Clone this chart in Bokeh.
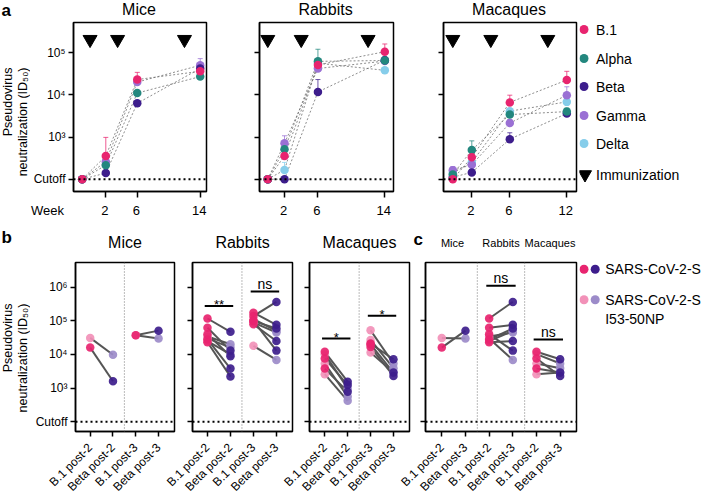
import math
from bokeh.plotting import figure
from bokeh.models import Range1d, FixedTicker, Span
from bokeh.layouts import row, column
from bokeh.core.properties import value
from bokeh.embed import file_html
from bokeh.resources import INLINE

FONT = "Liberation Sans"

# ---------------- Panel a: titers over time ----------------
VARIANTS = ["B.1", "Alpha", "Beta", "Gamma", "Delta"]
VARIANT_COLORS = {"B.1": "#e8246f", "Alpha": "#23877e", "Beta": "#3d1d8c",
                  "Gamma": "#9a70d4", "Delta": "#86cdea"}
DRAW_ORDER = ["Delta", "Gamma", "Beta", "Alpha", "B.1"]

MICE_WEEKS = [-1, 2, 6, 14]
MICE_MEAN = {
    "B.1": [100, 355, 23000, 36000],
    "Alpha": [100, 215, 11000, 27000],
    "Beta": [100, 140, 6300, 42000],
    "Gamma": [100, 260, 20000, 50000],
}
MICE_UPPER = {
    "B.1": [100, 980, 34000, 45000],
    "Alpha": [100, 250, 12500, 31000],
    "Beta": [100, 160, 7200, 50000],
    "Gamma": [100, 320, 24000, 72000],
}
MICE_IMMUNIZATION = [0, 3.5, 12]

RABBIT_WEEKS = [0, 2, 6, 14]
RABBIT_MEAN = {
    "B.1": [100, 355, 51000, 105000],
    "Alpha": [100, 510, 62000, 65000],
    "Beta": [100, 100, 11700, 66000],
    "Gamma": [100, 710, 42000, 63000],
    "Delta": [100, 166, 56000, 38000],
}
RABBIT_UPPER = {
    "B.1": [100, 420, 62000, 160000],
    "Alpha": [100, 700, 120000, 80000],
    "Beta": [100, 100, 23000, 76000],
    "Gamma": [100, 1070, 50000, 72000],
    "Delta": [100, 250, 65000, 42000],
}
RABBIT_IMMUNIZATION = [0, 4, 12]

MACAQUE_WEEKS = [0, 2, 6, 12]
MACAQUE_MEAN = {
    "B.1": [100, 330, 6600, 22400],
    "Alpha": [130, 490, 3400, 4000],
    "Beta": [112, 145, 890, 3600],
    "Gamma": [162, 220, 2140, 9800],
    "Delta": [140, 250, 4100, 6800],
}
MACAQUE_UPPER = {
    "B.1": [100, 400, 9800, 36000],
    "Alpha": [160, 810, 4300, 4800],
    "Beta": [125, 170, 1260, 4100],
    "Gamma": [200, 270, 2600, 15500],
    "Delta": [165, 300, 4700, 7900],
}
MACAQUE_IMMUNIZATION = [0, 4, 10]

A_YTICKS = [100, 1000, 10000, 100000]
A_YTICK_LABELS = ["Cutoff", "10³", "10⁴", "10⁵"]

# ---------------- Panels b, c: B.1 vs Beta ----------------
B_CATEGORIES = ["B.1 post-2", "Beta post-2", "B.1 post-3", "Beta post-3"]
C_CATEGORIES = ["B.1 post-2", "Beta post-3"] * 3
B_YTICKS = [100, 1000, 10000, 100000, 1000000]
B_YTICK_LABELS = ["Cutoff", "10³", "10⁴", "10⁵", "10⁶"]

MICE_GROUP = ["S", "NP"]
MICE_B1_POST2 = [16000, 31000]
MICE_BETA_POST2 = [1600, 9800]
MICE_B1_POST3 = [37000, 37000]
MICE_BETA_POST3 = [51000, 30000]

RABBIT_GROUP = ["S", "S", "S", "S", "NP", "NP", "NP", "S"]
RABBIT_B1_POST2 = [117000, 62000, 28000, 23000, 34000, 30000, 25000, 40000]
RABBIT_BETA_POST2 = [47000, 13000, 3800, 2200, 20000, 16000, 10000, 8900]
RABBIT_B1_POST3 = [138000, 174000, 98000, 79000, 89000, 18000, 112000, 100000]
RABBIT_BETA_POST3 = [363000, 76000, 59000, 25000, 45000, 6900, 50000, 13000]

MACAQUE_GROUP = ["S", "S", "S", "NP", "NP", "NP"]
MACAQUE_B1_POST2 = [12000, 7600, 3800, 10200, 5400, 2600]
MACAQUE_BETA_POST2 = [1550, 1230, 780, 980, 560, 420]
MACAQUE_B1_POST3 = [21000, 16600, 20000, 52000, 27000, 11500]
MACAQUE_BETA_POST3 = [7200, 2300, 2900, 5400, 3900, 2900]

B1_COLORS = {"S": "#e8246f", "NP": "#f291b8"}
BETA_COLORS = {"S": "#3d1d8c", "NP": "#9c8bc9"}

RABBIT_SIG = [("**", 0, 1, 275000), ("ns", 2, 3, 740000)]
MACAQUE_SIG = [("*", 0, 1, 30000), ("*", 2, 3, 141000)]
C_SIG = [("ns", 2, 3, 1100000), ("ns", 4, 5, 28000)]

TRI_Y = 10 ** 5.31
A_LOGRANGE = (1.709, 5.713)
B_LOGRANGE = (1.712, 6.731)
B_PX_PER_DECADE = 169 / (B_LOGRANGE[1] - B_LOGRANGE[0])
COMMON = dict(output_backend="svg", toolbar_location=None, title_location=None,
              background_fill_color=None, border_fill_color=None)


class Frame:
    """A figure filling page box (x0, y0, w, h) with its plot frame at (left, top, fw, fh)."""

    def __init__(self, box, frame, xr, logr):
        self.x0, self.y0, self.w, self.h = box
        self.left, self.top, self.fw, self.fh = frame
        self.xr = xr
        self.logr = logr

    def px(self, x):
        a, b = self.xr
        return self.left + (x - a) / (b - a) * self.fw


def hide_labels(axis):
    axis.major_label_text_font_size = "1px"
    axis.major_label_text_alpha = 0
    axis.major_label_standoff = 0


def frame_fig(fr):
    p = figure(frame_width=fr.fw, frame_height=fr.fh,
               x_range=Range1d(*fr.xr),
               y_range=Range1d(10 ** fr.logr[0], 10 ** fr.logr[1]),
               y_axis_type="log",
               min_border_left=fr.left - fr.x0, min_border_top=fr.top - fr.y0,
               min_border_right=fr.x0 + fr.w - fr.left - fr.fw,
               min_border_bottom=fr.y0 + fr.h - fr.top - fr.fh,
               outline_line_color="black", outline_line_width=1.5, **COMMON)
    p.grid.visible = False
    for ax in p.axis:
        ax.axis_line_width = 1.5
        ax.axis_line_color = "black"
        ax.major_tick_line_width = 1.5
        ax.major_tick_line_color = "black"
        ax.major_tick_out = 5
        ax.major_tick_in = 0
        ax.minor_tick_line_color = None
        ax.major_label_text_font = FONT
        ax.major_label_text_font_size = "12px"
        ax.major_label_text_color = "black"
    # x tick labels are drawn by the shared label strips below the frames
    hide_labels(p.xaxis)
    return p


def cutoff(p):
    p.add_layout(Span(location=100, dimension="width", line_color="black",
                      line_dash="2 3", line_width=2))


def panel_a(fr, weeks, means, uppers, imm, xticks, show_labels):
    p = frame_fig(fr)
    p.yaxis.ticker = FixedTicker(ticks=A_YTICKS)
    if show_labels:
        p.yaxis.major_label_overrides = dict(zip(A_YTICKS, A_YTICK_LABELS))
        p.yaxis.major_label_standoff = 3
    else:
        hide_labels(p.yaxis)
    p.xaxis.ticker = FixedTicker(ticks=xticks)
    p.xaxis.major_tick_out = 6
    cutoff(p)
    order = [v for v in DRAW_ORDER if v in means]
    for v in order:
        p.line(weeks, means[v], line_color="#707070", line_dash="2 2", line_width=0.8)
    for v in order:
        keep = [i for i in range(len(weeks)) if uppers[v][i] > means[v][i] * 1.04]
        if keep:
            xs = [weeks[i] for i in keep]
            p.segment(x0=xs, y0=[means[v][i] for i in keep], x1=xs,
                      y1=[uppers[v][i] for i in keep], line_color=VARIANT_COLORS[v],
                      line_width=1, line_alpha=0.75)
            p.scatter(xs, [uppers[v][i] for i in keep], marker="dash", size=5,
                      line_color=VARIANT_COLORS[v], line_width=1, line_alpha=0.75)
    for v in order:
        p.scatter(weeks, means[v], size=8.5, fill_color=VARIANT_COLORS[v],
                  line_color=None)
    p.scatter(imm, [TRI_Y] * len(imm), marker="inverted_triangle", size=14,
              fill_color="black", line_color="black")
    return p


def draw_pairs(p, x0, x1, v0, v1, groups):
    n = len(groups)
    p.segment(x0=[x0] * n, y0=v0, x1=[x1] * n, y1=v1, line_color="#555555",
              line_width=2)
    for g in ["NP", "S"]:
        idx = [i for i in range(n) if groups[i] == g]
        if not idx:
            continue
        p.scatter([x0] * len(idx), [v0[i] for i in idx], size=8.5,
                  fill_color=B1_COLORS[g], line_color=None, fill_alpha=0.92)
        p.scatter([x1] * len(idx), [v1[i] for i in idx], size=8.5,
                  fill_color=BETA_COLORS[g], line_color=None, fill_alpha=0.92)


def draw_sig(p, sig):
    for lab, i, j, y in sig:
        p.segment(x0=[i - 0.12], y0=[y], x1=[j + 0.12], y1=[y], line_color="black",
                  line_width=2)
        lift_px = 7.5 if lab == "ns" else 1.0
        ty = y * 10 ** (lift_px / B_PX_PER_DECADE)
        p.text(x=[(i + j) / 2], y=[ty], text=[lab], text_font=value(FONT),
               text_font_size="14px" if lab == "ns" else "13px",
               text_align="center", text_baseline="middle", text_color="black")


def panel_b(fr, ncat, show_labels, dividers):
    p = frame_fig(fr)
    p.yaxis.ticker = FixedTicker(ticks=B_YTICKS)
    if show_labels:
        p.yaxis.major_label_overrides = dict(zip(B_YTICKS, B_YTICK_LABELS))
        p.yaxis.major_label_standoff = 3
    else:
        hide_labels(p.yaxis)
    p.xaxis.ticker = FixedTicker(ticks=list(range(ncat)))
    cutoff(p)
    for d in dividers:
        p.add_layout(Span(location=d, dimension="height", line_color="#777777",
                          line_dash="1 2", line_width=1))
    return p


def text_tile(x0, y0, w, h):
    p = figure(width=w, height=h, x_range=Range1d(x0, x0 + w),
               y_range=Range1d(y0 + h, y0), min_border=0,
               x_axis_location=None, y_axis_location=None,
               outline_line_color=None, **COMMON)
    p.grid.visible = False
    return p


def txt(p, xs, ys, texts, size, align="center", baseline="middle", bold=False,
        angle=0.0):
    p.text(x=xs, y=ys, text=texts, text_font=value(FONT), text_font_size=size,
           text_align=align, text_baseline=baseline, angle=angle,
           text_font_style="bold" if bold else "normal", text_color="black")


def label_strip(x0, w, h, ticks, labels, size, orientation, standoff):
    p = figure(width=w, frame_height=1, x_range=Range1d(x0, x0 + w),
               y_range=Range1d(0, 1), min_border_left=0, min_border_right=0,
               min_border_top=0, min_border_bottom=h - 1, y_axis_location=None,
               outline_line_color=None, **COMMON)
    p.grid.visible = False
    ax = p.xaxis
    ax.ticker = FixedTicker(ticks=ticks)
    ax.major_label_overrides = dict(zip(ticks, labels))
    ax.major_label_orientation = orientation
    ax.axis_line_color = None
    ax.major_tick_line_color = None
    ax.minor_tick_line_color = None
    ax.major_tick_out = 0
    ax.major_tick_in = 0
    ax.major_label_standoff = standoff
    ax.major_label_text_font = FONT
    ax.major_label_text_font_size = size
    ax.major_label_text_color = "black"
    return p


YLABEL = ["Pseudovirus", "neutralization (ID₅₀)"]

# ---- panel a ----
FRA1 = Frame((38, 29, 202, 178), (80, 30, 133, 169), (-2.106, 14.80), A_LOGRANGE)
FRA2 = Frame((240, 29, 185, 178), (266, 30, 134, 169), (-0.991, 15.04), A_LOGRANGE)
FRA3 = Frame((425, 29, 161, 178), (450, 30, 133, 169), (-0.979, 13.02), A_LOGRANGE)

fa1 = panel_a(FRA1, MICE_WEEKS, MICE_MEAN, MICE_UPPER, MICE_IMMUNIZATION, [2, 6, 14], True)
fa2 = panel_a(FRA2, RABBIT_WEEKS, RABBIT_MEAN, RABBIT_UPPER, RABBIT_IMMUNIZATION,
              [2, 6, 14], False)
fa3 = panel_a(FRA3, MACAQUE_WEEKS, MACAQUE_MEAN, MACAQUE_UPPER, MACAQUE_IMMUNIZATION,
              [2, 6, 12], False)

week_ticks, week_labels = [55.0], ["Week"]
for fr, wk in [(FRA1, [2, 6, 14]), (FRA2, [2, 6, 14]), (FRA3, [2, 6, 12])]:
    for w_ in wk:
        week_ticks.append(fr.px(w_))
        week_labels.append(str(w_))
strip_a = label_strip(38, 548, 28, week_ticks, week_labels, "13px", "horizontal", 2)

ta_top = text_tile(8, 8, 578, 21)
txt(ta_top, [9], [17.5], ["a"], "17px", align="left", bold=True)
txt(ta_top, [146.5, 333, 516.5], [16.5, 16.5, 16.5], ["Mice", "Rabbits", "Macaques"], "16px")

ta_left = text_tile(8, 29, 30, 206)
txt(ta_left, [15, 30], [75, 75], YLABEL, "12.5px", align="right", angle=math.pi / 2)

# ---- panel b / c ----
FRB1 = Frame((38, 269, 153, 177), (83, 270, 99, 169), (-0.646, 3.70), B_LOGRANGE)
FRB2 = Frame((191, 269, 117, 177), (200, 270, 100, 169), (-0.652, 3.70), B_LOGRANGE)
FRB3 = Frame((308, 269, 112, 177), (317, 270, 100, 169), (-0.668, 3.70), B_LOGRANGE)
FRC = Frame((420, 269, 166, 177), (433, 270, 151, 169), (-0.688, 5.69), B_LOGRANGE)

fb1 = panel_b(FRB1, 4, True, [1.5])
draw_pairs(fb1, 0, 1, MICE_B1_POST2, MICE_BETA_POST2, MICE_GROUP)
draw_pairs(fb1, 2, 3, MICE_B1_POST3, MICE_BETA_POST3, MICE_GROUP)

fb2 = panel_b(FRB2, 4, False, [1.5])
draw_pairs(fb2, 0, 1, RABBIT_B1_POST2, RABBIT_BETA_POST2, RABBIT_GROUP)
draw_pairs(fb2, 2, 3, RABBIT_B1_POST3, RABBIT_BETA_POST3, RABBIT_GROUP)
draw_sig(fb2, RABBIT_SIG)

fb3 = panel_b(FRB3, 4, False, [1.5])
draw_pairs(fb3, 0, 1, MACAQUE_B1_POST2, MACAQUE_BETA_POST2, MACAQUE_GROUP)
draw_pairs(fb3, 2, 3, MACAQUE_B1_POST3, MACAQUE_BETA_POST3, MACAQUE_GROUP)
draw_sig(fb3, MACAQUE_SIG)

fc = panel_b(FRC, 6, False, [1.5, 3.5])
draw_pairs(fc, 0, 1, MICE_B1_POST2, MICE_BETA_POST3, MICE_GROUP)
draw_pairs(fc, 2, 3, RABBIT_B1_POST2, RABBIT_BETA_POST3, RABBIT_GROUP)
draw_pairs(fc, 4, 5, MACAQUE_B1_POST2, MACAQUE_BETA_POST3, MACAQUE_GROUP)
draw_sig(fc, C_SIG)

cat_ticks, cat_labels = [], []
for fr, cats in [(FRB1, B_CATEGORIES), (FRB2, B_CATEGORIES), (FRB3, B_CATEGORIES),
                 (FRC, C_CATEGORIES)]:
    for i, c in enumerate(cats):
        cat_ticks.append(fr.px(i))
        cat_labels.append(c)
strip_b = label_strip(8, 578, 57, cat_ticks, cat_labels, "12px", math.pi / 4, 6)

tb_top = text_tile(8, 235, 578, 34)
txt(tb_top, [9], [245], ["b"], "17px", align="left", bold=True)
txt(tb_top, [132.5, 250, 367], [250, 250, 250], ["Mice", "Rabbits", "Macaques"], "16px")
txt(tb_top, [421], [247], ["c"], "17px", align="left", bold=True)
txt(tb_top, [460, 508.5, 557.5], [250, 250, 250], ["Mice", "Rabbits", "Macaques"], "11px")

tb_left = text_tile(8, 269, 30, 177)
txt(tb_left, [15, 30], [312, 312], YLABEL, "12.5px", align="right", angle=math.pi / 2)

# ---- legends (page pixel coordinates) ----
leg = text_tile(586, 8, 122, 495)
LEG_A_Y = [37, 66, 94, 123, 151]
leg.scatter([590.5] * 5, LEG_A_Y, size=9,
            fill_color=[VARIANT_COLORS[v] for v in VARIANTS], line_color=None)
leg.scatter([591.5], [182], marker="inverted_triangle", size=13,
            fill_color="black", line_color="black")
txt(leg, [602.5] * 6, LEG_A_Y + [182], VARIANTS + ["Immunization"], "14px", align="left")

leg.scatter([590.5, 601.7], [276.7, 276.7], size=9,
            fill_color=[B1_COLORS["S"], BETA_COLORS["S"]], line_color=None)
leg.scatter([590.5, 601.7], [307.3, 307.3], size=9,
            fill_color=[B1_COLORS["NP"], BETA_COLORS["NP"]], line_color=None)
txt(leg, [611.7] * 3, [276.7, 307.3, 326], ["SARS-CoV-2-S", "SARS-CoV-2-S", "I53-50NP"],
    "14px", align="left")

left_part = column(
    ta_top,
    row(ta_left, column(row(fa1, fa2, fa3), strip_a)),
    tb_top,
    row(tb_left, fb1, fb2, fb3, fc),
    strip_b,
)
layout = row(left_part, leg)

open("out.html", "w").write(file_html(layout, INLINE))
